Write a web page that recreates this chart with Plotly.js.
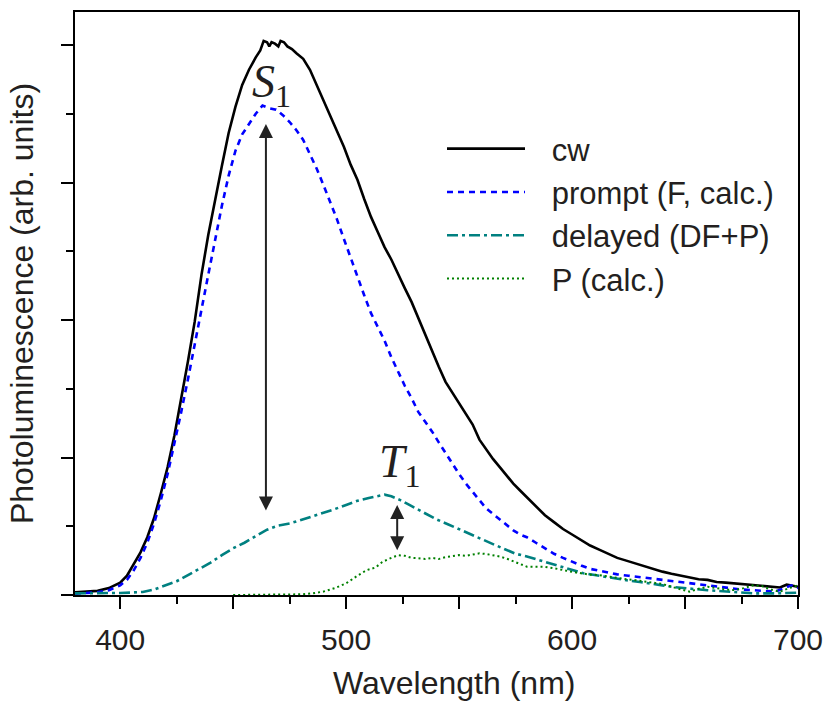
<!DOCTYPE html>
<html>
<head>
<meta charset="utf-8">
<script src="https://cdn.plot.ly/plotly-3.0.1.min.js"></script>
<style>html,body{margin:0;padding:0;background:#fff;}#chart{width:828px;height:702px;}</style>
</head>
<body>
<div id="chart"></div>
<script>
// ---- data ----
const cwX = [380,385,390,395,400,403,406,409,412,415,418,421,424,427,430,433,436,439,442,445,448,451,454,457,460,462,463.5,465,466,467,468.5,470,471,472.5,474,476,478,481,484,487,490,493,496,499,502,505,508,511,514,517,520,523,526,529,532,535,538,541,544,547,550,553,556,559,562,565,568,571,574,577,580,584,588,592,596,600,604,608,612,616,620,624,628,632,636,640,644,648,652,656,660,664,668,672,676,680,684,688,692,695,698,700];
const cwY = [0.02,0.025,0.03,0.05,0.09,0.14,0.22,0.31,0.42,0.56,0.74,0.93,1.16,1.42,1.70,1.99,2.33,2.62,2.88,3.12,3.36,3.55,3.71,3.82,3.91,3.96,4.03,4.02,3.99,4.02,4.01,3.99,4.03,4.02,3.99,3.97,3.94,3.90,3.82,3.71,3.60,3.49,3.38,3.26,3.13,3.02,2.88,2.75,2.64,2.53,2.44,2.33,2.23,2.13,2.01,1.89,1.77,1.66,1.55,1.47,1.40,1.32,1.24,1.13,1.06,0.99,0.93,0.87,0.81,0.76,0.71,0.64,0.58,0.53,0.48,0.44,0.40,0.36,0.33,0.30,0.27,0.25,0.23,0.205,0.185,0.17,0.155,0.14,0.125,0.115,0.11,0.095,0.09,0.085,0.075,0.07,0.07,0.06,0.055,0.075,0.065,0.06];

const promptX = [380,385,390,395,400,403,406,409,412,415,418,421,424,427,430,433,436,439,442,445,448,451,454,457,460,463,466,469,472,475,478,481,484,487,490,493,496,499,502,505,508,511,514,517,520,523,526,529,532,535,538,541,544,547,550,553,556,559,562,565,568,571,574,577,580,584,588,592,596,600,604,608,612,616,620,625,630,635,640,645,650,655,660,665,670,675,680,685,690,694,697,700];
const promptY = [0.01,0.015,0.02,0.035,0.07,0.11,0.18,0.27,0.38,0.52,0.69,0.88,1.10,1.33,1.57,1.83,2.08,2.33,2.58,2.83,3.05,3.23,3.35,3.43,3.50,3.56,3.54,3.53,3.49,3.44,3.38,3.31,3.21,3.10,2.98,2.86,2.73,2.59,2.45,2.31,2.18,2.05,1.95,1.85,1.73,1.62,1.52,1.43,1.33,1.26,1.19,1.11,1.03,0.95,0.88,0.81,0.75,0.69,0.63,0.59,0.55,0.51,0.47,0.44,0.42,0.38,0.34,0.30,0.27,0.24,0.215,0.19,0.175,0.16,0.15,0.14,0.13,0.115,0.105,0.095,0.085,0.075,0.065,0.055,0.045,0.04,0.035,0.03,0.025,0.05,0.07,0.05];

const delayedX = [380,390,400,405,410,415,420,425,430,435,440,445,450,455,460,465,470,475,480,485,490,495,500,505,510,514,517,520,524,528,532,536,540,545,550,555,560,565,570,575,580,585,590,595,600,605,610,615,620,625,630,635,640,645,650,655,660,665,670,675,680,690,700];
const delayedY = [0.012,0.012,0.015,0.018,0.022,0.04,0.07,0.10,0.145,0.19,0.235,0.29,0.34,0.38,0.43,0.475,0.505,0.52,0.545,0.57,0.60,0.625,0.655,0.685,0.705,0.72,0.73,0.718,0.69,0.655,0.62,0.58,0.55,0.515,0.478,0.44,0.405,0.37,0.335,0.30,0.28,0.255,0.23,0.205,0.18,0.158,0.145,0.13,0.12,0.105,0.095,0.085,0.07,0.058,0.048,0.042,0.035,0.03,0.022,0.015,0.012,0.012,0.017];

const pX = [450,460,470,480,485,490,495,500,505,509,513,516,520,523,526,529,532,535,538,541,544,547,550,553,556,559,562,565,568,571,574,577,580,584,588,592,596,600,604,608,612,616,620,624,628,632,636,640,644,648,652,656,660,664,668,672,676,680,684,688,692,696,700];
const pY = [0.0,0.0,0.0,0.005,0.012,0.025,0.05,0.085,0.14,0.18,0.2,0.24,0.27,0.29,0.285,0.27,0.268,0.262,0.27,0.262,0.275,0.285,0.29,0.285,0.295,0.303,0.298,0.29,0.28,0.265,0.245,0.225,0.206,0.205,0.205,0.195,0.18,0.168,0.158,0.148,0.145,0.135,0.122,0.115,0.108,0.1,0.093,0.08,0.06,0.04,0.024,0.045,0.06,0.05,0.04,0.036,0.05,0.07,0.065,0.04,0.024,0.05,0.07];

const seriesNames = ['cw','prompt (F, calc.)','delayed (DF+P)','P (calc.)'];
const xMajor = [400,450,500,550,600,650,700];
const xMajorText = ['400','','500','','600','','700'];
const xMinor = [425,475,525,575,625,675];
const yMajor = [0,1,2,3,4];
const yMinor = [0.5,1.5,2.5,3.5];
const xTitle = 'Wavelength (nm)';
const yTitle = 'Photoluminescence (arb. units)';

// ---- plot ----
const ink = '#231f20';
const FONT = 'Liberation Sans, Arial, Helvetica, sans-serif';
const GAP = '\u2002\u2009';
const traces = [
  {x: cwX, y: cwY, name: GAP + seriesNames[0], mode: 'lines', line: {color: '#000000', width: 2.6}},
  {x: promptX, y: promptY, name: GAP + seriesNames[1], mode: 'lines', line: {color: '#0000ff', width: 2.6, dash: '6px,5px'}},
  {x: delayedX, y: delayedY, name: GAP + seriesNames[2], mode: 'lines', line: {color: '#008080', width: 2.6, dash: '11px,4px,3px,4px'}},
  {x: pX, y: pY, name: GAP + seriesNames[3], mode: 'lines', line: {color: '#008000', width: 2, dash: '2px,3px'}}
];

const layout = {
  width: 828, height: 702,
  margin: {l: 75, r: 30, t: 12, b: 107},
  paper_bgcolor: '#ffffff', plot_bgcolor: '#ffffff',
  font: {family: FONT, size: 30, color: ink},
  showlegend: true,
  legend: {
    x: (442 - 75) / 723, xanchor: 'left',
    y: 1 - (122 - 12) / 583, yanchor: 'top',
    bgcolor: 'rgba(0,0,0,0)', borderwidth: 0,
    itemwidth: 78,
    font: {family: FONT, size: 31, color: ink},
    tracegroupgap: 0
  },
  xaxis: {
    range: [380, 700], showgrid: false, zeroline: false,
    showline: true, linecolor: '#000', linewidth: 2, mirror: true,
    tickmode: 'array', tickvals: xMajor, ticktext: xMajorText,
    ticks: 'outside', ticklen: 12, tickwidth: 2, tickcolor: '#000',
    ticklabelstandoff: 5,
    minor: {tickmode: 'array', tickvals: xMinor, ticks: 'outside', ticklen: 7, tickwidth: 2, tickcolor: '#000'},
    tickfont: {family: FONT, size: 30, color: ink}
  },
  yaxis: {
    range: [0, 4.24], showgrid: false, zeroline: false,
    showline: true, linecolor: '#000', linewidth: 2, mirror: true,
    tickmode: 'array', tickvals: yMajor, showticklabels: false,
    ticks: 'outside', ticklen: 12, tickwidth: 2, tickcolor: '#000',
    minor: {tickmode: 'array', tickvals: yMinor, ticks: 'outside', ticklen: 7, tickwidth: 2, tickcolor: '#000'},
    title: {text: yTitle, font: {family: FONT, size: 32, color: ink}, standoff: 18}
  },
  xaxis2: {
    overlaying: 'x', side: 'top', range: [380, 700], showgrid: false, zeroline: false, showline: false,
    tickmode: 'array', tickvals: xMajor.concat(xMinor), showticklabels: false,
    ticks: 'inside', ticklen: 3, tickwidth: 1.5, tickcolor: '#000'
  },
  yaxis2: {
    overlaying: 'y', side: 'right', range: [0, 4.24], showgrid: false, zeroline: false, showline: false,
    tickmode: 'array', tickvals: yMajor.concat(yMinor), showticklabels: false,
    ticks: 'outside', ticklen: 3, tickwidth: 1.5, tickcolor: '#000'
  },
  annotations: [
    {x: (454 - 75) / 723, y: -(683 - 595) / 583, xref: 'paper', yref: 'paper', showarrow: false,
     xanchor: 'center', yanchor: 'middle', text: xTitle, font: {family: FONT, size: 32, color: ink}},
    {x: 467, y: 3.71, xref: 'x', yref: 'y', showarrow: false, xanchor: 'center', yanchor: 'middle',
     text: '<i>S</i><sub>1</sub>', font: {family: 'Liberation Serif, Times New Roman, serif', size: 46, color: ink}},
    {x: 523.8, y: 0.945, xref: 'x', yref: 'y', showarrow: false, xanchor: 'center', yanchor: 'middle',
     text: '<i>T</i><sub>1</sub>', font: {family: 'Liberation Serif, Times New Roman, serif', size: 46, color: ink}},
    {x: 464.5, y: 3.425, ax: 464.5, ay: 0.604, xref: 'x', yref: 'y', axref: 'x', ayref: 'y',
     text: '', showarrow: true, arrowside: 'end+start', arrowhead: 2, arrowsize: 1.4, arrowwidth: 2, arrowcolor: '#222', standoff: 0, startstandoff: 0},
    {x: 522.6, y: 0.655, ax: 522.6, ay: 0.315, xref: 'x', yref: 'y', axref: 'x', ayref: 'y',
     text: '', showarrow: true, arrowside: 'end+start', arrowhead: 2, arrowsize: 1.4, arrowwidth: 2, arrowcolor: '#222', standoff: 0, startstandoff: 0}
  ]
};

Plotly.newPlot('chart', traces, layout, {displayModeBar: false, staticPlot: true});
</script>
</body>
</html>
